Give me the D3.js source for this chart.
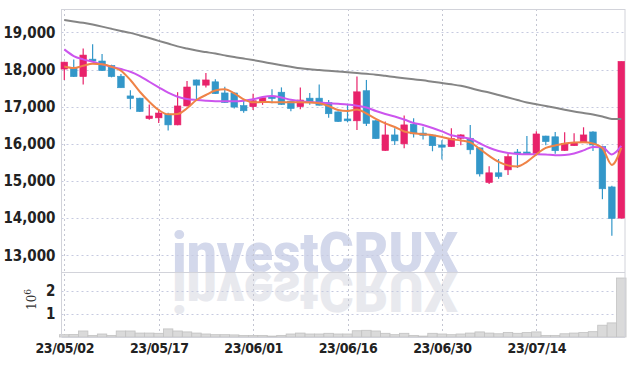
<!DOCTYPE html>
<html>
<head>
<meta charset="utf-8">
<script src="https://cdnjs.cloudflare.com/ajax/libs/d3/7.8.5/d3.min.js"></script>
<style>
body { margin: 0; background: #fff; }
svg { display: block; }
.axis .tick text { font-family: 'Liberation Sans Narrow', 'DejaVu Sans Condensed', sans-serif; font-weight: bold; font-size: 15px; fill: #222; }
.axis.x-axis .tick text { font-size: 14px; letter-spacing: -0.4px; }
</style>
</head>
<body>
<svg width="634" height="366"></svg>
<script>
// trading days, 23/05/02 .. 23/07/27
var dates = ['23/05/02','23/05/03','23/05/04','23/05/08','23/05/09','23/05/10','23/05/11','23/05/12','23/05/15','23/05/16',
    '23/05/17','23/05/18','23/05/19','23/05/22','23/05/23','23/05/24','23/05/25','23/05/26','23/05/30','23/05/31',
    '23/06/01','23/06/02','23/06/05','23/06/07','23/06/08','23/06/09','23/06/12','23/06/13','23/06/14','23/06/15',
    '23/06/16','23/06/19','23/06/20','23/06/21','23/06/22','23/06/23','23/06/26','23/06/27','23/06/28','23/06/29',
    '23/06/30','23/07/03','23/07/04','23/07/05','23/07/06','23/07/07','23/07/10','23/07/11','23/07/12','23/07/13',
    '23/07/14','23/07/17','23/07/18','23/07/19','23/07/20','23/07/21','23/07/24','23/07/25','23/07/26','23/07/27'];

var opens = [18013,18050,17810,18280,18230,18110,17820,17290,17230,16680,
    16700,16800,16510,17020,17720,17580,17670,17370,17370,17030,
    17000,17130,17260,17390,17150,17000,17230,17230,17110,16860,
    16670,16620,17430,16620,15820,16240,16000,16530,16290,16235,
    15970,15925,16150,16150,15890,14960,15220,15300,15780,15780,
    15740,16210,16190,15820,15950,16050,16320,15930,14840,14000];
var highs = [18210,18270,18570,18680,18420,18130,17880,17440,17240,17060,
    16940,16840,17390,17690,17730,17910,17740,17540,17380,17170,
    17350,17250,17470,17520,17160,17520,17370,17600,17180,16870,
    17080,17810,17720,16640,16600,16420,16760,16690,16460,16250,
    16100,16420,16260,16510,15900,15400,15590,15730,15860,16210,
    16340,16220,16320,16310,16285,16446,16340,15950,14870,18220];
var lows = [17720,17800,17600,18210,17960,17790,17510,16930,16860,16650,
    16560,16360,16500,17010,17160,17520,17340,17100,16950,16840,
    16910,17050,17090,17050,16880,16930,17050,17030,16700,16590,
    16580,16370,16480,16130,15810,15970,15880,16170,16120,15800,
    15580,15920,15960,15720,15120,14920,15060,15160,15350,15720,
    15730,15960,15730,15810,15940,16040,15810,14510,13525,13990];
var closes = [18200,17810,18390,18230,17970,17810,17510,17220,16870,16750,
    16830,16510,17020,17530,17580,17720,17350,17110,16990,16890,
    17160,17240,17230,17060,16950,17180,17110,17040,16810,16600,
    16620,17400,16550,16140,16240,16080,16510,16270,16230,15950,
    15910,16150,16240,15840,15190,15220,15120,15656,15750,15730,
    16266,16060,15815,16010,16040,16240,15970,14790,13990,18220];

var volumes = [0.10,0.11,0.26,0.07,0.13,0.07,0.26,0.26,0.17,0.17,
    0.16,0.35,0.26,0.22,0.17,0.13,0.10,0.10,0.09,0.07,
    0.07,0.07,0.04,0.07,0.13,0.17,0.13,0.13,0.16,0.13,
    0.13,0.27,0.29,0.26,0.16,0.10,0.16,0.07,0.04,0.16,
    0.13,0.10,0.13,0.17,0.22,0.17,0.14,0.20,0.16,0.19,
    0.22,0.07,0.07,0.14,0.17,0.19,0.23,0.51,0.61,2.55].map(function(v) { return v * 1e6; });

var maShort = [18081,18040,18102,18156,18140,18075,17968,17718,17403,17135,
    16911,16796,16804,16957,17180,17315,17436,17468,17360,17199,
    17118,17126,17121,17118,17118,17118,17113,17092,17019,16911,
    16885,16925,16817,16670,16549,16454,16334,16285,16258,16231,
    16186,16124,16092,16038,15863,15675,15514,15420,15393,15514,
    15715,15890,15957,16011,16035,16043,16011,15882,15433,15890];
var maMid = [18543,18363,18274,18210,18140,18075,18013,17941,17825,17672,
    17522,17376,17269,17207,17180,17161,17148,17145,17145,17161,
    17199,17261,17288,17247,17188,17148,17126,17110,17094,17078,
    17059,17027,16979,16885,16804,16737,16656,16562,16508,16428,
    16334,16231,16186,16137,16016,15895,15809,15756,15729,15721,
    15721,15715,15694,15702,15742,15823,15917,15909,15715,15944];
var maLong = [19331,19296,19258,19210,19156,19097,19040,18987,18919,18847,
    18772,18699,18624,18565,18511,18470,18430,18382,18336,18296,
    18255,18210,18161,18116,18073,18032,18005,17987,17965,17946,
    17927,17906,17884,17863,17831,17798,17766,17737,17710,17672,
    17637,17602,17562,17503,17436,17382,17315,17247,17180,17113,
    17065,17019,16971,16919,16871,16831,16791,16737,16670,16670];

var priceTicks = [13000,14000,15000,16000,17000,18000,19000];
var volumeTicks = [1e6, 2e6];
var dateTicks = dates.filter(function(d, i) { return i % 10 === 0; });

var svg = d3.select('svg');

var frame = {l: 61.5, r: 625, t: 9, mid: 272, b: 337};

var x = d3.scalePoint()
    .domain(dates)
    .range([64.3, 621.3]);
var step = x.step();

var y = d3.scaleLinear()
    .domain([12550, 19630])
    .range([frame.mid, frame.t]);

var yVol = d3.scaleLinear()
    .domain([0, 2.81e6])
    .range([frame.b, frame.mid]);

// watermark + reflection
var mark = svg.append('g').attr('class', 'watermark');
mark.append('text')
    .attr('x', 172).attr('y', frame.mid)
    .attr('textLength', 286).attr('lengthAdjust', 'spacingAndGlyphs')
    .style('font-family', 'Roboto, sans-serif').style('font-weight', 900).style('font-size', '55px')
    .attr('fill', '#d3d8eb')
    .text('investCRUX');
mark.append('text')
    .attr('x', 172).attr('y', frame.mid + 1)
    .attr('transform', 'translate(0,' + (2 * frame.mid + 1) + ') scale(1,-1)')
    .attr('textLength', 286).attr('lengthAdjust', 'spacingAndGlyphs')
    .style('font-family', 'Roboto, sans-serif').style('font-weight', 900).style('font-size', '55px')
    .attr('fill', '#e8e9ee')
    .text('investCRUX');

// grid
svg.append('g').selectAll('line')
    .data(priceTicks)
    .enter().append('line')
    .attr('x1', frame.l).attr('x2', frame.r)
    .attr('y1', function(d) { return Math.round(y(d)) + 0.5; })
    .attr('y2', function(d) { return Math.round(y(d)) + 0.5; })
    .attr('stroke', '#c6cae0').attr('stroke-dasharray', '2,3');

svg.append('g').selectAll('line')
    .data(volumeTicks)
    .enter().append('line')
    .attr('x1', frame.l).attr('x2', frame.r)
    .attr('y1', function(d) { return Math.round(yVol(d)) + 0.5; })
    .attr('y2', function(d) { return Math.round(yVol(d)) + 0.5; })
    .attr('stroke', '#c6cae0').attr('stroke-dasharray', '2,3');

svg.append('g').selectAll('line')
    .data(dateTicks)
    .enter().append('line')
    .attr('x1', function(d) { return Math.round(x(d)) + 0.5; })
    .attr('x2', function(d) { return Math.round(x(d)) + 0.5; })
    .attr('y1', frame.t).attr('y2', frame.b)
    .attr('stroke', '#c4c6d2').attr('stroke-dasharray', '2,3');

// volume bars
svg.append('g').selectAll('rect')
    .data(volumes)
    .enter().append('rect')
    .attr('x', function(d, i) { return x(dates[i]) - step / 2; })
    .attr('width', step)
    .attr('y', function(d) { return yVol(d); })
    .attr('height', function(d) { return frame.b - yVol(d); })
    .attr('fill', '#dadada')
    .attr('stroke', '#c2c2c2')
    .attr('stroke-width', 0.8);

// frame
var border = svg.append('g').attr('stroke', '#d2d3da').attr('fill', 'none');
border.append('line').attr('x1', frame.l).attr('x2', frame.r).attr('y1', frame.t + 0.5).attr('y2', frame.t + 0.5);
border.append('line').attr('x1', frame.l).attr('x2', frame.r).attr('y1', frame.mid + 0.5).attr('y2', frame.mid + 0.5);
border.append('line').attr('x1', frame.l).attr('x2', frame.r).attr('y1', frame.b + 0.5).attr('y2', frame.b + 0.5);
border.append('line').attr('x1', frame.l).attr('x2', frame.l).attr('y1', frame.t).attr('y2', frame.b);
border.append('line').attr('x1', frame.r).attr('x2', frame.r).attr('y1', frame.t).attr('y2', frame.b);

// candles
var candles = svg.append('g').selectAll('g')
    .data(dates)
    .enter().append('g')
    .attr('fill', function(d, i) { return closes[i] >= opens[i] ? '#e8226a' : '#3397c9'; })
    .attr('stroke', function(d, i) { return closes[i] >= opens[i] ? '#e8226a' : '#3397c9'; });

candles.append('line')
    .attr('x1', function(d) { return x(d); })
    .attr('x2', function(d) { return x(d); })
    .attr('y1', function(d, i) { return y(highs[i]); })
    .attr('y2', function(d, i) { return y(lows[i]); })
    .attr('stroke-width', 1.2);

candles.append('rect')
    .attr('x', function(d) { return x(d) - 3.3; })
    .attr('width', 6.6)
    .attr('y', function(d, i) { return y(Math.max(opens[i], closes[i])); })
    .attr('height', function(d, i) { return Math.max(1.5, Math.abs(y(opens[i]) - y(closes[i]))); })
    .attr('stroke-width', 0.6);

// moving averages
var line = d3.line()
    .x(function(d, i) { return x(dates[i]); })
    .y(function(d) { return y(d); })
    .curve(d3.curveMonotoneX);

[[maLong, '#858585'], [maMid, '#cc55ee'], [maShort, '#ef8347']].forEach(function(s) {
    svg.append('path')
        .datum(s[0])
        .attr('d', line)
        .attr('fill', 'none')
        .attr('stroke', s[1])
        .attr('stroke-width', 2);
});

// axes
var yAxis = svg.append('g')
    .attr('class', 'axis')
    .attr('transform', 'translate(' + frame.l + ',0)')
    .call(d3.axisLeft(y).tickValues(priceTicks).tickFormat(d3.format(',')).tickSize(0).tickPadding(6));
yAxis.select('.domain').remove();

var volAxis = svg.append('g')
    .attr('class', 'axis')
    .attr('transform', 'translate(' + frame.l + ',0)')
    .call(d3.axisLeft(yVol).tickValues(volumeTicks).tickFormat(function(d) { return d / 1e6; }).tickSize(0).tickPadding(6));
volAxis.select('.domain').remove();

var xAxis = svg.append('g')
    .attr('class', 'axis x-axis')
    .attr('transform', 'translate(0,' + frame.b + ')')
    .call(d3.axisBottom(x).tickValues(dateTicks).tickSize(0).tickPadding(6));
xAxis.select('.domain').remove();

// 10^6 unit label
var unit = svg.append('text')
    .attr('transform', 'translate(36,310) rotate(-90)')
    .style('font-family', 'DejaVu Serif, serif')
    .style('font-size', '12px')
    .attr('fill', '#333');
unit.append('tspan').text('10');
unit.append('tspan').attr('dy', -5).style('font-size', '9px').text('6');
</script>
</body>
</html>
